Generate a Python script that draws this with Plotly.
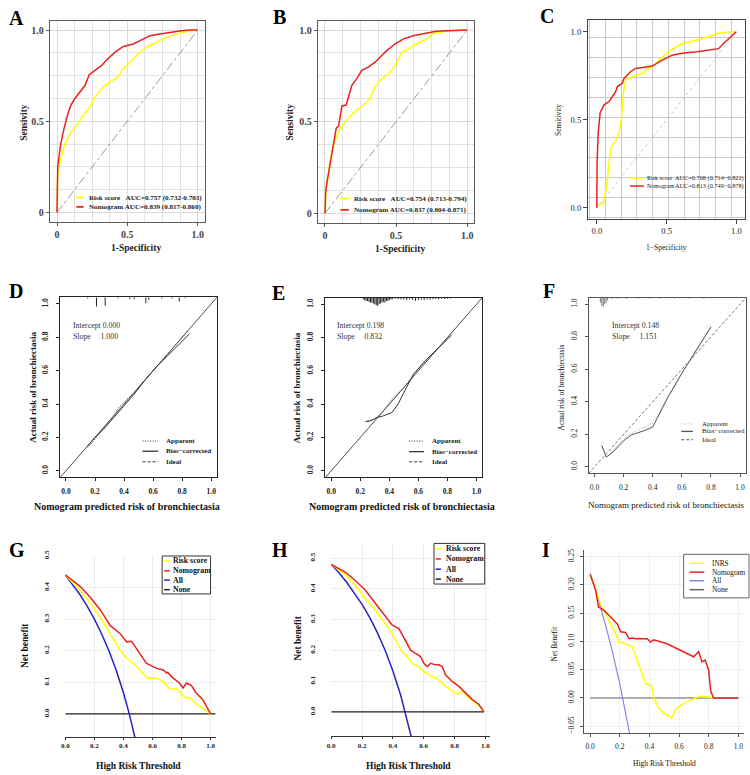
import plotly.graph_objects as go

W, H = 750, 775
SERIF = "Liberation Serif, Times New Roman, serif"

# ---------------- data ----------------
# ROC A (training)
rocA_risk_fpr = [0, 0.005, 0.024, 0.059, 0.094, 0.142, 0.189, 0.236, 0.271, 0.318, 0.377, 0.436, 0.46, 0.519, 0.578, 0.637, 0.708, 0.778, 0.849, 0.92, 1.0]
rocA_risk_tpr = [0, 0.2, 0.29, 0.38, 0.435, 0.48, 0.534, 0.58, 0.634, 0.679, 0.716, 0.743, 0.779, 0.824, 0.87, 0.906, 0.933, 0.96, 0.978, 0.993, 1.0]
rocA_nomo_fpr = [0, 0.005, 0.024, 0.042, 0.071, 0.094, 0.123, 0.165, 0.2, 0.229, 0.271, 0.318, 0.354, 0.413, 0.472, 0.542, 0.601, 0.66, 0.731, 0.802, 0.884, 0.943, 1.0]
rocA_nomo_tpr = [0, 0.254, 0.362, 0.435, 0.525, 0.58, 0.621, 0.661, 0.697, 0.755, 0.779, 0.806, 0.837, 0.879, 0.91, 0.924, 0.946, 0.969, 0.978, 0.987, 0.996, 1.0, 1.0]
# ROC B (internal validation)
rocB_risk_fpr = [0, 0.009, 0.026, 0.049, 0.084, 0.119, 0.165, 0.212, 0.259, 0.317, 0.352, 0.387, 0.434, 0.469, 0.508, 0.539, 0.585, 0.643, 0.713, 0.76, 0.853, 1.0]
rocB_risk_tpr = [0, 0.15, 0.24, 0.339, 0.429, 0.474, 0.519, 0.555, 0.582, 0.627, 0.69, 0.726, 0.753, 0.78, 0.825, 0.879, 0.897, 0.924, 0.951, 0.982, 0.993, 1.0]
rocB_nomo_fpr = [0, 0.005, 0.014, 0.033, 0.061, 0.079, 0.096, 0.107, 0.119, 0.149, 0.165, 0.189, 0.224, 0.259, 0.305, 0.352, 0.399, 0.434, 0.492, 0.55, 0.62, 0.713, 0.783, 0.853, 1.0]
rocB_nomo_tpr = [0, 0.114, 0.168, 0.258, 0.366, 0.465, 0.477, 0.537, 0.586, 0.591, 0.636, 0.699, 0.735, 0.78, 0.798, 0.825, 0.861, 0.888, 0.924, 0.951, 0.969, 0.982, 0.993, 0.996, 1.0]
# ROC C (external validation)
rocC_risk_fpr = [0, 0.005, 0.048, 0.057, 0.071, 0.088, 0.105, 0.135, 0.159, 0.176, 0.19, 0.207, 0.242, 0.29, 0.337, 0.349, 0.397, 0.468, 0.527, 0.599, 0.694, 0.777, 0.86, 0.955, 1.0]
rocC_risk_tpr = [0, 0.017, 0.023, 0.069, 0.126, 0.257, 0.351, 0.379, 0.426, 0.501, 0.651, 0.726, 0.741, 0.754, 0.764, 0.786, 0.801, 0.857, 0.895, 0.929, 0.947, 0.966, 0.989, 1.0, 1.0]
rocC_nomo_fpr = [0, 0.002, 0.01, 0.024, 0.052, 0.088, 0.135, 0.147, 0.183, 0.195, 0.242, 0.278, 0.397, 0.468, 0.539, 0.622, 0.717, 0.872, 0.919, 0.955, 0.979, 1.0]
rocC_nomo_tpr = [0, 0.257, 0.426, 0.542, 0.585, 0.604, 0.66, 0.689, 0.707, 0.735, 0.773, 0.792, 0.805, 0.839, 0.867, 0.88, 0.886, 0.904, 0.942, 0.97, 0.989, 1.0]
diag = [0, 1]

# Calibration D
calD_app_x = [0.15, 0.2, 0.26, 0.31, 0.37, 0.42, 0.47, 0.55, 0.62, 0.7, 0.77, 0.84]
calD_app_y = [0.14, 0.19, 0.26, 0.31, 0.385, 0.43, 0.47, 0.55, 0.62, 0.70, 0.77, 0.84]
calD_bc_x = [0.15, 0.2, 0.26, 0.31, 0.37, 0.42, 0.47, 0.55, 0.62, 0.7, 0.77, 0.85]
calD_bc_y = [0.15, 0.2, 0.25, 0.30, 0.365, 0.41, 0.46, 0.55, 0.62, 0.69, 0.75, 0.82]
rugD_x = [0.15, 0.21, 0.27, 0.36, 0.44, 0.47, 0.55, 0.57, 0.66, 0.73, 0.78, 0.82]
rugD_h = [0.008, 0.055, 0.05, 0.006, 0.01, 0.012, 0.035, 0.015, 0.008, 0.008, 0.025, 0.006]
# Calibration E
calE_app_x = [0.25, 0.3, 0.35, 0.42, 0.5, 0.57, 0.65, 0.74, 0.83]
calE_app_y = [0.30, 0.31, 0.35, 0.43, 0.50, 0.58, 0.66, 0.74, 0.83]
calE_bc_x = [0.235, 0.27, 0.315, 0.36, 0.418, 0.46, 0.5, 0.566, 0.646, 0.737, 0.829]
calE_bc_y = [0.295, 0.30, 0.32, 0.33, 0.35, 0.40, 0.47, 0.58, 0.66, 0.735, 0.815]
rugE_x = [0.22, 0.23, 0.24, 0.25, 0.26, 0.27, 0.28, 0.29, 0.30, 0.31, 0.32, 0.33, 0.34, 0.35, 0.36, 0.37, 0.38, 0.39, 0.40, 0.41, 0.42,
          0.44, 0.46, 0.48, 0.50, 0.52, 0.54, 0.56, 0.58, 0.60, 0.62, 0.64, 0.66, 0.68, 0.70, 0.72, 0.74, 0.76, 0.78, 0.80, 0.82]
rugE_h = [0.01, 0.015, 0.02, 0.02, 0.025, 0.03, 0.03, 0.035, 0.04, 0.045, 0.05, 0.04, 0.035, 0.03, 0.025, 0.03, 0.02, 0.02, 0.015, 0.01, 0.01,
          0.006, 0.008, 0.01, 0.012, 0.015, 0.012, 0.015, 0.02, 0.015, 0.012, 0.015, 0.01, 0.012, 0.01, 0.008, 0.01, 0.006, 0.008, 0.006, 0.005]
# Calibration F
calF_app_x = [0.05, 0.07, 0.08, 0.12, 0.2, 0.25, 0.3, 0.35, 0.4, 0.45, 0.5, 0.6, 0.7, 0.8]
calF_app_y = [0.13, 0.09, 0.06, 0.09, 0.17, 0.205, 0.225, 0.245, 0.27, 0.34, 0.43, 0.58, 0.72, 0.865]
calF_bc_x = [0.05, 0.07, 0.08, 0.12, 0.2, 0.25, 0.3, 0.35, 0.4, 0.45, 0.5, 0.6, 0.7, 0.8]
calF_bc_y = [0.13, 0.09, 0.06, 0.085, 0.16, 0.195, 0.21, 0.225, 0.245, 0.33, 0.42, 0.575, 0.72, 0.86]
rugF_x = [0.04, 0.05, 0.06, 0.07, 0.08, 0.09, 0.12, 0.16, 0.22, 0.3, 0.38, 0.45, 0.55, 0.65, 0.75, 0.8]
rugF_h = [0.03, 0.05, 0.055, 0.04, 0.03, 0.015, 0.008, 0.006, 0.006, 0.005, 0.005, 0.005, 0.005, 0.005, 0.005, 0.004]
cal_ideal = [-0.04, 1.04]

# DCA G
dcaG_risk_t = [0, 0.103, 0.171, 0.24, 0.308, 0.377, 0.422, 0.468, 0.514, 0.559, 0.628, 0.674, 0.719, 0.765, 0.787, 0.822, 0.856, 0.902, 0.947, 1.0]
dcaG_risk_nb = [0.44, 0.39, 0.35, 0.306, 0.254, 0.202, 0.176, 0.16, 0.139, 0.115, 0.113, 0.102, 0.079, 0.079, 0.071, 0.052, 0.052, 0.031, 0.017, 0.0]
dcaG_nomo_t = [0, 0.103, 0.171, 0.24, 0.308, 0.377, 0.422, 0.456, 0.514, 0.559, 0.628, 0.674, 0.697, 0.705, 0.73, 0.787, 0.81, 0.833, 0.867, 0.901, 0.947, 1.0]
dcaG_nomo_nb = [0.44, 0.403, 0.369, 0.33, 0.28, 0.254, 0.228, 0.23, 0.19, 0.16, 0.144, 0.139, 0.129, 0.132, 0.118, 0.097, 0.082, 0.097, 0.09, 0.066, 0.045, 0.0]
dcaG_all_t = [0, 0.05, 0.1, 0.15, 0.2, 0.25, 0.3, 0.35, 0.4, 0.44, 0.48]
dcaG_all_nb = [0.44, 0.41, 0.378, 0.341, 0.30, 0.253, 0.20, 0.138, 0.067, 0.0, -0.077]
dcaG_none_t = [0, 1.034]
dcaG_none_nb = [0, 0]
# DCA H
dcaH_risk_t = [0, 0.093, 0.158, 0.223, 0.288, 0.352, 0.396, 0.428, 0.461, 0.493, 0.525, 0.569, 0.601, 0.655, 0.698, 0.742, 0.785, 0.817, 0.85, 0.893, 0.936, 0.979, 0.99]
dcaH_risk_nb = [0.48, 0.446, 0.41, 0.368, 0.33, 0.287, 0.255, 0.223, 0.196, 0.18, 0.158, 0.147, 0.131, 0.115, 0.104, 0.083, 0.067, 0.058, 0.067, 0.045, 0.029, 0.011, 0.0]
dcaH_nomo_t = [0, 0.093, 0.158, 0.223, 0.288, 0.352, 0.396, 0.439, 0.482, 0.515, 0.547, 0.579, 0.601, 0.623, 0.644, 0.677, 0.698, 0.72, 0.742, 0.785, 0.828, 0.871, 0.915, 0.958, 0.99]
dcaH_nomo_nb = [0.48, 0.454, 0.427, 0.395, 0.352, 0.309, 0.282, 0.271, 0.233, 0.201, 0.19, 0.18, 0.158, 0.147, 0.158, 0.153, 0.153, 0.147, 0.12, 0.099, 0.083, 0.061, 0.04, 0.024, 0.0]
dcaH_all_t = [0, 0.05, 0.1, 0.15, 0.2, 0.25, 0.3, 0.35, 0.4, 0.45, 0.48, 0.52]
dcaH_all_nb = [0.48, 0.453, 0.422, 0.388, 0.35, 0.307, 0.257, 0.2, 0.133, 0.055, 0.0, -0.083]
dcaH_none_t = [0, 0.99]
dcaH_none_nb = [0, 0]
# DCA I
dcaI_inrs_t = [0, 0.038, 0.072, 0.116, 0.161, 0.195, 0.239, 0.284, 0.318, 0.351, 0.374, 0.412, 0.434, 0.463, 0.508, 0.553, 0.575, 0.62, 0.653, 0.698, 0.732, 0.776, 0.832]
dcaI_inrs_nb = [0.219, 0.19, 0.166, 0.143, 0.12, 0.099, 0.096, 0.091, 0.067, 0.041, 0.025, 0.023, -0.003, -0.018, -0.029, -0.035, -0.02, -0.012, -0.006, -0.002, 0.003, 0.002, 0.0]
dcaI_nomo_t = [0, 0.038, 0.056, 0.094, 0.139, 0.183, 0.206, 0.239, 0.262, 0.284, 0.306, 0.385, 0.407, 0.43, 0.519, 0.608, 0.698, 0.732, 0.754, 0.776, 0.799, 0.814, 0.832, 1.0]
dcaI_nomo_nb = [0.219, 0.19, 0.161, 0.155, 0.143, 0.131, 0.117, 0.116, 0.105, 0.106, 0.105, 0.105, 0.099, 0.103, 0.096, 0.085, 0.073, 0.082, 0.064, 0.067, 0.05, 0.012, 0.0, 0.0]
dcaI_all_t = [0, 0.05, 0.1, 0.15, 0.2, 0.22, 0.25, 0.27]
dcaI_all_nb = [0.22, 0.179, 0.133, 0.082, 0.025, 0.0, -0.04, -0.068]
dcaI_none_t = [0, 1.0]
dcaI_none_nb = [0, 0]

YEL = "#ffff00"
RED = "#e8231f"
BLUE = "#2424c8"
DOT = "1px,1.5px"
SDASH = "3px,2px"

fig = go.Figure()


def dom(pa, va, pb, vb, r, vertical=False):
    s = (pb - pa) / (vb - va)
    p0 = pa + (r[0] - va) * s
    p1 = pa + (r[1] - va) * s
    if vertical:
        return [1 - p0 / H, 1 - p1 / H]
    return [p0 / W, p1 / W]


def add(i, x, y, color, width=1.5, dash="solid"):
    s = "" if i == 1 else str(i)
    fig.add_trace(go.Scatter(x=x, y=y, mode="lines", xaxis="x" + s, yaxis="y" + s,
                             line=dict(color=color, width=width, dash=dash),
                             showlegend=False, hoverinfo="skip"))


def add_rug(i, xs, hs, top, color):
    xx, yy = [], []
    for a, h in zip(xs, hs):
        xx += [a, a, None]
        yy += [top, top - h, None]
    add(i, xx, yy, color, 1.0)


# ROC
add(1, diag, diag, "#9a9a9a", 1, "dashdot")
add(1, rocA_risk_fpr, rocA_risk_tpr, YEL, 1.5)
add(1, rocA_nomo_fpr, rocA_nomo_tpr, RED, 1.5)
add(2, diag, diag, "#9a9a9a", 1, "dashdot")
add(2, rocB_risk_fpr, rocB_risk_tpr, YEL, 1.5)
add(2, rocB_nomo_fpr, rocB_nomo_tpr, RED, 1.5)
add(3, diag, diag, "#c8c8c8", 1, "dot")
add(3, rocC_risk_fpr, rocC_risk_tpr, YEL, 1.5)
add(3, rocC_nomo_fpr, rocC_nomo_tpr, RED, 1.5)
# Calibration
add(4, cal_ideal, cal_ideal, "#222", 0.8)
add(4, calD_app_x, calD_app_y, "#333", 1, DOT)
add(4, calD_bc_x, calD_bc_y, "#333", 1)
add_rug(4, rugD_x, rugD_h, 1.04, "#222")
add(5, cal_ideal, cal_ideal, "#222", 0.8)
add(5, calE_app_x, calE_app_y, "#333", 1, DOT)
add(5, calE_bc_x, calE_bc_y, "#333", 1)
add_rug(5, rugE_x, rugE_h, 1.04, "#222")
add(6, cal_ideal, cal_ideal, "#555", 0.8, SDASH)
add(6, calF_app_x, calF_app_y, "#aaa", 1, DOT)
add(6, calF_bc_x, calF_bc_y, "#555", 1)
add_rug(6, rugF_x, rugF_h, 1.04, "#777")
# DCA
add(7, dcaG_none_t, dcaG_none_nb, "#222", 1.2)
add(7, dcaG_all_t, dcaG_all_nb, BLUE, 1.5)
add(7, dcaG_risk_t, dcaG_risk_nb, YEL, 1.5)
add(7, dcaG_nomo_t, dcaG_nomo_nb, RED, 1.5)
add(8, dcaH_none_t, dcaH_none_nb, "#222", 1.2)
add(8, dcaH_all_t, dcaH_all_nb, BLUE, 1.5)
add(8, dcaH_risk_t, dcaH_risk_nb, YEL, 1.5)
add(8, dcaH_nomo_t, dcaH_nomo_nb, RED, 1.5)
add(9, dcaI_none_t, dcaI_none_nb, "#666", 1.2)
add(9, dcaI_all_t, dcaI_all_nb, "#8585ee", 1.2)
add(9, dcaI_inrs_t, dcaI_inrs_nb, YEL, 1.5)
add(9, dcaI_nomo_t, dcaI_nomo_nb, RED, 1.5)

layout = dict(width=W, height=H, margin=dict(l=0, r=0, t=0, b=0),
              paper_bgcolor="white", plot_bgcolor="white", showlegend=False,
              font=dict(family=SERIF, color="#111"))


def fnt(size, bold=False, color="#111"):
    return dict(family=SERIF, size=size, color=color, weight="bold" if bold else "normal")


# panel geometry: (x pixel/value pairs, x range, y pixel/value pairs, y range)
geo = {
    1: ((53.3, 0, 194.7, 1), [-0.05, 1.05], (208.3, 0, 24.3, 1), [-0.05, 1.05]),
    2: ((322.7, 0, 465.7, 1), [-0.05, 1.05], (209.3, 0, 24.3, 1), [-0.05, 1.05]),
    3: ((596, 0, 736.3, 1), [-0.065, 1.065], (203.7, 0, 26, 1), [-0.065, 1.065]),
    4: ((62.3, 0, 208.3, 1), [-0.04, 1.04], (469, 0, 300.7, 1), [-0.04, 1.04]),
    5: ((329, 0, 475, 1), [-0.04, 1.04], (469, 0, 301, 1), [-0.04, 1.04]),
    6: ((593.7, 0, 740, 1), [-0.04, 1.04], (465, 0, 301, 1), [-0.04, 1.04]),
    7: ((61.7, 0, 207.7, 1), [0, 1.034], (714.3, 0, 555, 0.5), [-0.073, 0.5]),
    8: ((329, 0, 484, 1), [0, 1.03], (712.3, 0, 557.3, 0.5), [-0.079, 0.55]),
    9: ((589.3, 0, 738.3, 1), [-0.04, 1.04], (698.3, 0, 555.7, 0.25), [-0.062, 0.262]),
}

tick02 = [0, 0.2, 0.4, 0.6, 0.8, 1.0]
tick02_t = ["0.0", "0.2", "0.4", "0.6", "0.8", "1.0"]

for i in range(1, 10):
    xm, xr, ym, yr = geo[i]
    s = "" if i == 1 else str(i)
    xa = dict(domain=dom(*xm, xr), range=xr, anchor="y" + s, zeroline=False, fixedrange=True)
    ya = dict(domain=dom(*ym, yr, vertical=True), range=yr, anchor="x" + s, zeroline=False, fixedrange=True)
    if i in (1, 2):
        common = dict(showline=True, mirror=True, linecolor="#5a5a5a", linewidth=1.3,
                      ticks="outside", ticklen=3, tickcolor="#5a5a5a",
                      tickvals=[0, 0.5, 1], ticktext=["0", "0.5", "1.0"],
                      tickfont=fnt(10, True, "#444"),
                      showgrid=True, gridcolor="#dadada", gridwidth=1,
                      minor=dict(tick0=0, dtick=0.125, showgrid=True, gridcolor="#e2e2e2", gridwidth=1))
        xa.update(common)
        ya.update(common)
    elif i == 3:
        common = dict(showline=True, mirror=True, linecolor="#444", linewidth=0.8,
                      ticks="outside", ticklen=4, tickcolor="#444",
                      tickvals=[0, 0.5, 1], ticktext=["0.0", "0.5", "1.0"],
                      tickfont=fnt(8.5, False, "#222"), showgrid=False,
                      minor=dict(tick0=-0.0520, dtick=0.113, showgrid=True, gridcolor="#c9c9c9", gridwidth=1))
        xa.update(common)
        ya.update(common)
    elif i in (4, 5, 6):
        bold = i != 6
        lc = "#222" if i != 6 else "#555"
        common = dict(showline=True, mirror=True, linecolor=lc, linewidth=1,
                      ticks="outside", ticklen=3, tickcolor=lc,
                      tickvals=tick02, ticktext=tick02_t,
                      tickfont=fnt(7.5, bold, "#222"), showgrid=False)
        xa.update(common)
        ya.update(common)
        xa.update(ticklabelstandoff=4)
        ya.update(tickangle=-90, ticklabelstandoff=5)
    elif i in (7, 8):
        xa.update(showline=True, linecolor="#333", linewidth=1, ticks="outside", ticklen=2,
                  tickcolor="#333", tickvals=tick02, ticktext=tick02_t,
                  tickfont=fnt(7, True, "#222"), showgrid=True, gridcolor="#ececec")
        ya.update(showline=False, ticks="", tickvals=[0, 0.1, 0.2, 0.3, 0.4, 0.5],
                  ticktext=["0.0", "0.1", "0.2", "0.3", "0.4", "0.5"], tickangle=-90,
                  tickfont=fnt(7, True, "#222"), showgrid=True, gridcolor="#ececec",
                  ticklabelstandoff=14)
    else:
        xa.update(showline=True, linecolor="#555", linewidth=1, ticks="outside", ticklen=3,
                  tickcolor="#555", tickvals=tick02, ticktext=tick02_t,
                  tickfont=fnt(7.5, False, "#222"), showgrid=True, gridcolor="#f0f0f0",
                  ticklabelstandoff=3)
        ya.update(showline=True, linecolor="#555", linewidth=1, ticks="outside", ticklen=3,
                  tickcolor="#555", tickvals=[-0.05, 0, 0.05, 0.1, 0.15, 0.2, 0.25],
                  ticktext=["\u22120.05", "0.00", "0.05", "0.10", "0.15", "0.20", "0.25"],
                  tickangle=-90, tickfont=fnt(7.5, False, "#222"), showgrid=True, gridcolor="#f0f0f0",
                  ticklabelstandoff=3)
    layout["xaxis" + s] = xa
    layout["yaxis" + s] = ya

anns = []
shapes = []


def T(text, px, py, size, bold=False, angle=0, xanchor="center", color="#111"):
    anns.append(dict(text=text, x=px / W, y=1 - py / H, xref="paper", yref="paper",
                     showarrow=False, xanchor=xanchor, yanchor="middle", textangle=angle,
                     font=fnt(size, bold, color)))


def key(x0, x1, py, color, width=1.5, dash="solid"):
    shapes.append(dict(type="line", xref="paper", yref="paper", x0=x0 / W, x1=x1 / W,
                       y0=1 - py / H, y1=1 - py / H, line=dict(color=color, width=width, dash=dash)))


def box(x0, y0, x1, y1, color="#333"):
    shapes.append(dict(type="rect", xref="paper", yref="paper", x0=x0 / W, x1=x1 / W,
                       y0=1 - y1 / H, y1=1 - y0 / H, line=dict(color=color, width=1),
                       fillcolor="white", layer="above"))


# panel letters
for lab, px, py in [("A", 3, 12), ("B", 268, 11), ("C", 537, 10), ("D", 3, 288), ("E", 267, 290),
                    ("F", 540, 288), ("G", 3, 549), ("H", 267, 549), ("I", 539, 549)]:
    T(lab, px, py, 20, True, xanchor="left", color="#000")

# ROC titles and legends
T("Sensivity", 20, 117, 9.5, True, -90, color="#222")
T("1-Specificity", 133, 244, 9.5, True, color="#222")
T("Sensivity", 287, 117, 9.5, True, -90, color="#222")
T("1-Specificity", 398, 245, 9.5, True, color="#222")
T("Sensitivity", 558, 115, 7.5, False, -90, color="#222")
T("1\u2212Specificity", 666, 244, 7.5, False, color="#222")

SP3 = "&nbsp;&nbsp;&nbsp;"
key(72.7, 80, 193.3, YEL, 1.8)
key(72.7, 80, 202.7, RED, 1.8)
T("Risk score" + SP3 + "AUC=0.757 (0.732-0.783)", 83.5, 193.3, 7.1, True, xanchor="left", color="#222")
T("Nomogram AUC=0.839 (0.817-0.860)", 83.5, 202.7, 7.1, True, xanchor="left", color="#222")

key(338.3, 346.7, 194.3, YEL, 1.8)
key(338.3, 346.7, 205.7, RED, 1.8)
T("Risk score" + SP3 + "AUC=0.754 (0.713-0.794)", 349.5, 194.3, 7.1, True, xanchor="left", color="#222")
T("Nomogram AUC=0.837 (0.804-0.871)", 349.5, 205.7, 7.1, True, xanchor="left", color="#222")

key(629.3, 643.3, 173.7, YEL, 1.5)
key(629.3, 643.3, 181.7, RED, 1.5)
T("Risk score", 644.3, 173.7, 6, False, xanchor="left", color="#222")
T("AUC=0.768 (0.714\u22120.822)", 673, 173.7, 6.3, False, xanchor="left", color="#222")
T("Nomogram", 644.3, 181.7, 6, False, xanchor="left", color="#222")
T("AUC=0.813 (0.749\u22120.878)", 673, 181.7, 6.3, False, xanchor="left", color="#222")

# calibration titles, stats and legends
for (yx, xx) in [(28.3, 124), (294.3, 400)]:
    T("Actual risk of bronchiectasia", yx, 385, 9, True, -90, color="#111")
    T("Nomogram predicted risk of bronchiectasia", xx, 505, 10, True, color="#111")
T("Actual risk of bronchiectasis", 561, 385, 7.5, False, -90, color="#111")
T("Nomogram predicted risk of bronchiectasis", 666, 504, 9, False, color="#111")

SP5 = "&nbsp;&nbsp;&nbsp;&nbsp;&nbsp;"
T("Intercept 0.000", 67.7, 322.3, 7.8, False, xanchor="left", color="#333")
T("Slope" + SP5 + "1.000", 67.7, 333.3, 7.8, False, xanchor="left", color="#333")
T("Intercept 0.198", 332.7, 322.3, 7.8, False, xanchor="left", color="#333")
T("Slope" + SP5 + "0.832", 332.7, 333.3, 7.8, False, xanchor="left", color="#333")
T("Intercept 0.148", 609, 322.3, 7.8, False, xanchor="left", color="#333")
T("Slope" + SP5 + "1.151", 609, 333.3, 7.8, False, xanchor="left", color="#333")

for (k0, k1, tx, rows, bold, fs, cols) in [
        (139.3, 155, 161, (439, 449.3, 460), True, 7, ("#333", "#333", "#333")),
        (407.3, 422.3, 428.3, (439, 449.7, 460), True, 7, ("#333", "#333", "#333")),
        (681, 692.7, 700, (421.7, 429.3, 437.7), False, 7, ("#bbb", "#555", "#555"))]:
    key(k0, k1, rows[0], cols[0], 1, DOT)
    key(k0, k1, rows[1], cols[1], 1.3)
    key(k0, k1, rows[2], cols[2], 1, SDASH)
    T("Apparent", tx, rows[0], fs, bold, xanchor="left", color="#222")
    T("Bias\u2212corrected", tx, rows[1], fs, bold, xanchor="left", color="#222")
    T("Ideal", tx, rows[2], fs, bold, xanchor="left", color="#222")

# DCA titles and legends
T("Net benefit", 21, 645, 9.5, True, -90, color="#111")
T("High Risk Threshold", 135, 767, 9.5, True, color="#111")
T("Net benefit", 296, 638, 9.5, True, -90, color="#111")
T("High Risk Threshold", 407, 767, 9.5, True, color="#111")
T("Net Benefit", 553.3, 643, 7.5, False, -90, color="#111")
T("High Risk Threshold", 664, 764, 7.5, False, color="#111")

box(159, 555, 207.7, 593.3, "#333")
box(432.3, 542.3, 483.3, 583.3, "#333")
box(683.3, 553.3, 749, 597.3, "#666")
for (k0, k1, tx, rows, bold, fs, names, cols) in [
        (161, 166.7, 168.3, (560, 570, 579.3, 589), True, 7.8,
         ("Risk score", "Nomogram", "All", "None"), (YEL, RED, BLUE, "#222")),
        (434, 439.3, 442.3, (547.7, 558, 568.3, 578.3), True, 7.8,
         ("Risk score", "Nomogram", "All", "None"), (YEL, RED, BLUE, "#222")),
        (689.3, 704, 709.3, (562.3, 571.3, 580, 589), False, 7.3,
         ("INRS", "Nomogram", "All", "None"), (YEL, RED, "#8585ee", "#666"))]:
    for r, n, c in zip(rows, names, cols):
        key(k0, k1, r, c, 1.5)
        T(n, tx, r, fs, bold, xanchor="left", color="#111")

layout["annotations"] = anns
layout["shapes"] = shapes
fig.update_layout(**layout)
fig.write_html("out.html")
